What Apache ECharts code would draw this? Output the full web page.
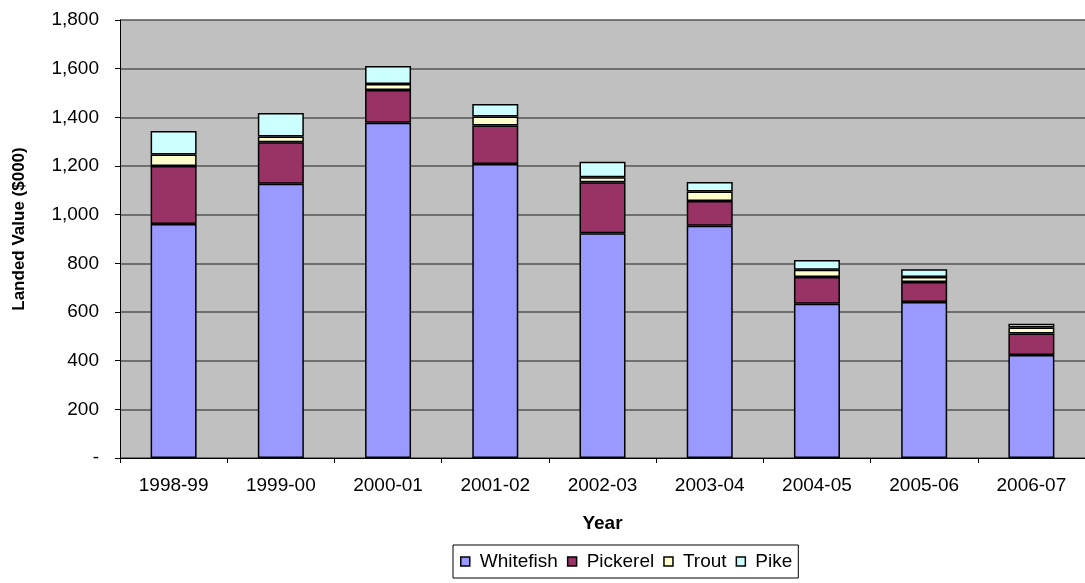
<!DOCTYPE html>
<html>
<head>
<meta charset="utf-8">
<script src="https://cdn.jsdelivr.net/npm/echarts@6/dist/echarts.min.js"></script>
<style>
html,body{margin:0;padding:0;background:#fff;}
#c{width:1085px;height:583px;}
</style>
</head>
<body>
<div id="c"></div>
<script>
const years = ['1998-99','1999-00','2000-01','2001-02','2002-03','2003-04','2004-05','2005-06','2006-07'];
const whitefish = [962, 1127, 1378, 1208, 924, 954, 634, 641, 423];
const pickerel  = [238, 171, 134, 158, 209, 102, 110, 82, 89];
const trout     = [47, 23, 25, 37, 21, 39, 30, 21, 24];
const pike      = [97, 97, 74, 52, 63, 39, 40, 32, 16];
const seriesNames = ['Whitefish','Pickerel','Trout','Pike'];
const colors = ['#9999FF','#993366','#FFFFCC','#CCFFFF'];
const dataSets = [whitefish, pickerel, trout, pike];

const font = 'Liberation Sans, Arial, sans-serif';
const chart = echarts.init(document.getElementById('c'));
chart.setOption({
  animation: false,
  backgroundColor: '#ffffff',
  grid: {left: 120, right: 0, top: 20, bottom: 125, show: true, backgroundColor: '#C0C0C0', borderWidth: 0},
  legend: {
    left: 453, top: 545,
    orient: 'horizontal',
    data: seriesNames,
    itemWidth: 9, itemHeight: 9, itemGap: 9,
    icon: 'rect',
    borderColor: '#000', borderWidth: 1,
    padding: [7, 6, 7, 7],
    textStyle: {fontFamily: font, fontSize: 19, color: '#000', padding: [0, 0, 0, 5]},
    itemStyle: {borderColor: '#000', borderWidth: 1.5}
  },
  xAxis: {
    type: 'category',
    data: years,
    name: 'Year',
    nameLocation: 'middle',
    nameGap: 56,
    nameTextStyle: {fontFamily: font, fontSize: 19, fontWeight: 'bold', color: '#000'},
    axisLine: {lineStyle: {color: '#000', width: 1}},
    axisTick: {show: true, alignWithLabel: false, length: 5, lineStyle: {color: '#000'}},
    axisLabel: {fontFamily: font, fontSize: 19, color: '#000', margin: 18},
    splitLine: {show: false}
  },
  yAxis: {
    type: 'value',
    min: 0, max: 1800, interval: 200,
    name: 'Landed Value ($000)',
    nameLocation: 'middle',
    nameGap: 92,
    nameRotate: 90,
    nameTextStyle: {fontFamily: font, fontSize: 17, fontWeight: 'bold', color: '#000', padding: [0, 0, 0, 20]},
    axisLine: {show: true, lineStyle: {color: '#000', width: 1}},
    axisTick: {show: true, length: 5, lineStyle: {color: '#000'}},
    axisLabel: {
      fontFamily: font, fontSize: 19, color: '#000', margin: 21,
      formatter: v => v === 0 ? '-' : v.toLocaleString('en-US')
    },
    splitLine: {show: true, lineStyle: {color: '#555', width: 1.5}}
  },
  series: seriesNames.map((n, i) => ({
    name: n,
    type: 'bar',
    stack: 'total',
    data: dataSets[i],
    barWidth: 46,
    itemStyle: {color: colors[i], borderColor: '#000', borderWidth: 1.5}
  }))
});
</script>
</body>
</html>
